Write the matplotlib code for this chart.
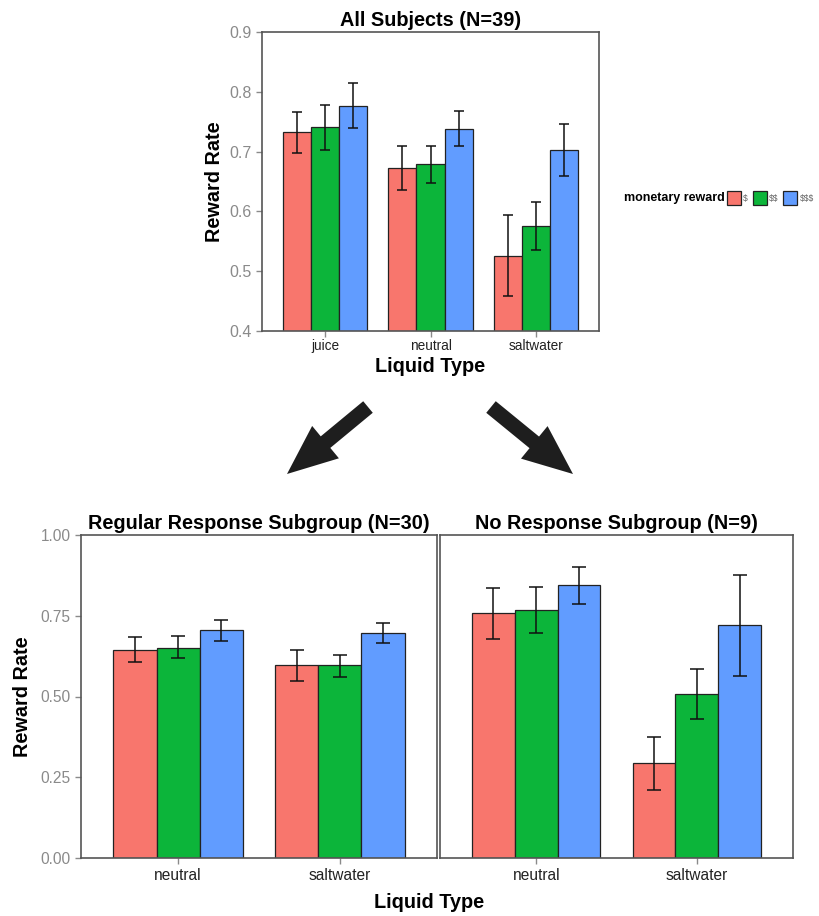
import matplotlib.pyplot as plt
from matplotlib.patches import FancyArrow
import numpy as np

plt.rcParams['font.family'] = ['Liberation Sans', 'DejaVu Sans']
plt.rcParams['text.parse_math'] = False

# reward levels and colours
rewards = ["$", "$$", "$$$"]
colors = ["#F8766D", "#0CB53A", "#619CFF"]

# all subjects
all_liquids = ["juice", "neutral", "saltwater"]
all_mean = [[0.733, 0.672, 0.525],
            [0.741, 0.679, 0.575],
            [0.777, 0.738, 0.703]]
all_lo = [[0.698, 0.635, 0.458],
          [0.703, 0.648, 0.535],
          [0.739, 0.709, 0.660]]
all_hi = [[0.767, 0.709, 0.594],
          [0.778, 0.710, 0.615],
          [0.815, 0.768, 0.746]]

# subgroups
sub_liquids = ["neutral", "saltwater"]
reg_mean = [[0.645, 0.596], [0.651, 0.596], [0.705, 0.698]]
reg_lo = [[0.608, 0.547], [0.618, 0.561], [0.673, 0.666]]
reg_hi = [[0.683, 0.643], [0.686, 0.630], [0.738, 0.729]]
nor_mean = [[0.758, 0.294], [0.768, 0.509], [0.844, 0.720]]
nor_lo = [[0.678, 0.210], [0.698, 0.431], [0.786, 0.565]]
nor_hi = [[0.837, 0.376], [0.839, 0.584], [0.902, 0.875]]

W, H = 819, 916
fig = plt.figure(figsize=(W / 100, H / 100), dpi=100)

FRAME = "#555555"
TICKGREY = "#8a8a8a"
LAB = 14.3


def draw_bars(ax, liquids, mean, lo, hi, capw):
    x = np.arange(1, len(liquids) + 1)
    w = 0.8 / 3
    handles = []
    for k in range(3):
        m = np.array(mean[k])
        pos = x + (k - 1) * w
        b = ax.bar(pos, m, width=w, color=colors[k], edgecolor="#222222",
                   linewidth=0.9, label=rewards[k], zorder=2)
        handles.append(b)
        err = [m - np.array(lo[k]), np.array(hi[k]) - m]
        ax.errorbar(pos, m, yerr=err, fmt="none", ecolor="#111111",
                    elinewidth=1.1, capsize=capw, capthick=1.1, zorder=3)
    ax.set_xticks(x)
    ax.set_xticklabels(liquids)
    ax.set_xlim(0.4, len(liquids) + 0.6)
    for s in ax.spines.values():
        s.set_color(FRAME)
        s.set_linewidth(1.2)
    ax.tick_params(axis="both", color=TICKGREY, length=4, width=1)
    ax.tick_params(axis="y", labelcolor=TICKGREY)
    ax.tick_params(axis="x", labelcolor="#222222")
    return handles


# top panel
ax0 = fig.add_axes([262 / W, 1 - 331 / H, 337 / W, 299 / H])
handles = draw_bars(ax0, all_liquids, all_mean, all_lo, all_hi, 3.5)
ax0.set_ylim(0.4, 0.9)
ax0.set_yticks([0.4, 0.5, 0.6, 0.7, 0.8, 0.9])
ax0.set_yticklabels(["0.4", "0.5", "0.6", "0.7", "0.8", "0.9"])
ax0.tick_params(axis="y", labelsize=11.5)
ax0.tick_params(axis="x", labelsize=9.8, pad=2)
ax0.set_title("All Subjects (N=39)", fontsize=LAB, fontweight="bold", pad=4)
ax0.set_ylabel("Reward Rate", fontsize=LAB, fontweight="bold", labelpad=4)
ax0.set_xlabel("Liquid Type", fontsize=LAB, fontweight="bold", labelpad=3)

# legend
fig.text(725 / W, 1 - 198 / H, "monetary reward", fontsize=9, fontweight="bold",
         ha="right", va="center")
leg = fig.legend(handles=handles, labels=rewards, loc="center left",
                 bbox_to_anchor=(727 / W, 1 - 198 / H), ncol=3, frameon=False,
                 fontsize=6.2, handlelength=1.6, handleheight=2.1,
                 handletextpad=0.3, columnspacing=0.55, borderpad=0,
                 borderaxespad=0)
for t in leg.get_texts():
    t.set_color("#666666")

# bottom panels
ax1 = fig.add_axes([81 / W, 1 - 858 / H, 356 / W, 323 / H])
draw_bars(ax1, sub_liquids, reg_mean, reg_lo, reg_hi, 5)
ax1.set_ylim(0, 1.0)
ax1.set_yticks([0, 0.25, 0.5, 0.75, 1.0])
ax1.set_yticklabels(["0.00", "0.25", "0.50", "0.75", "1.00"])
ax1.tick_params(axis="y", labelsize=11.2)
ax1.tick_params(axis="x", labelsize=11.2, pad=3)
ax1.set_title("Regular Response Subgroup (N=30)", fontsize=LAB, fontweight="bold", pad=4)
ax1.set_ylabel("Reward Rate", fontsize=LAB, fontweight="bold", labelpad=6)

ax2 = fig.add_axes([440 / W, 1 - 858 / H, 353 / W, 323 / H])
draw_bars(ax2, sub_liquids, nor_mean, nor_lo, nor_hi, 5)
ax2.set_ylim(0, 1.0)
ax2.set_yticks([])
ax2.tick_params(axis="x", labelsize=11.2, pad=3)
ax2.set_title("No Response Subgroup (N=9)", fontsize=LAB, fontweight="bold", pad=4)

fig.text(429 / W, 1 - 903 / H, "Liquid Type", fontsize=LAB, fontweight="bold",
         ha="center", va="center")

# arrows
ov = fig.add_axes([0, 0, 1, 1])
ov.set_xlim(0, W)
ov.set_ylim(H, 0)
ov.axis("off")
for (x0, y0, x1, y1) in [(368, 407, 287, 474), (491, 407, 573, 474)]:
    ov.add_patch(FancyArrow(x0, y0, x1 - x0, y1 - y0, width=15, head_width=42,
                            head_length=50, length_includes_head=True,
                            color="#1e1e1e", lw=0))

fig.savefig("out.png", dpi=100)
